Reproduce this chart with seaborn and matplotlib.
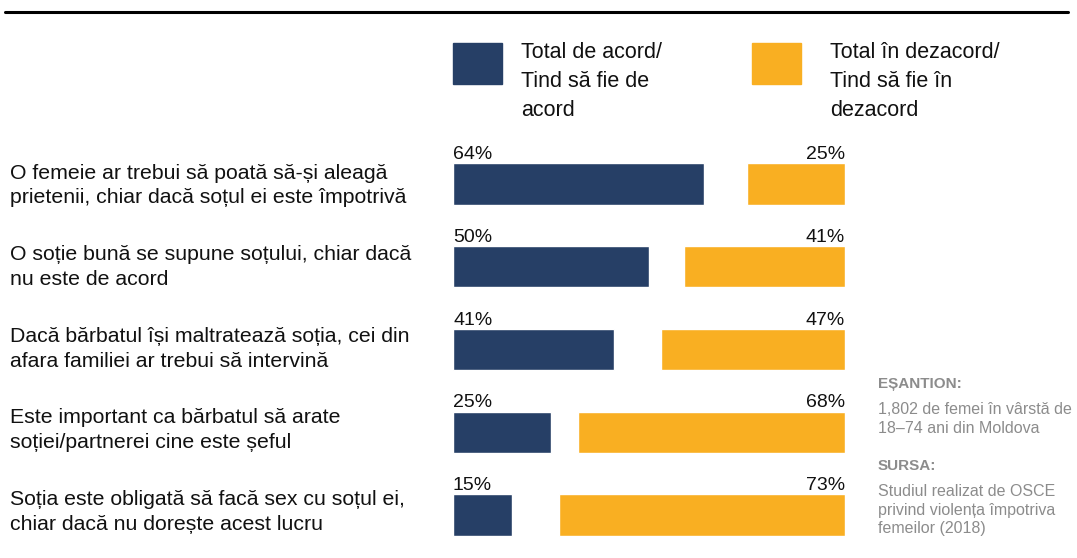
import matplotlib
matplotlib.use("Agg")
import matplotlib.pyplot as plt
import matplotlib.transforms as mtransforms
from matplotlib.patches import Rectangle
from matplotlib.lines import Line2D
import seaborn as sns
import pandas as pd

# Data
statements = [
    "O femeie ar trebui să poată să-și aleagă\nprietenii, chiar dacă soțul ei este împotrivă",
    "O soție bună se supune soțului, chiar dacă\nnu este de acord",
    "Dacă bărbatul își maltratează soția, cei din\nafara familiei ar trebui să intervină",
    "Este important ca bărbatul să arate\nsoției/partnerei cine este șeful",
    "Soția este obligată să facă sex cu soțul ei,\nchiar dacă nu dorește acest lucru",
]
agree = [64, 50, 41, 25, 15]
disagree = [25, 41, 47, 68, 73]
legend_labels = ["Total de acord/\nTind să fie de\nacord", "Total în dezacord/\nTind să fie în\ndezacord"]

BLUE = "#263F66"
ORANGE = "#F9AF22"
GREY = "#8C8C8C"

df = pd.DataFrame({"statement": statements, "agree": agree, "disagree": disagree})

sns.set_style("white")
plt.rcParams["font.family"] = ["Liberation Sans", "DejaVu Sans"]

W, H = 1077, 558
fig = plt.figure(figsize=(W / 100, H / 100), dpi=100)

# axes placement (pixel based)
x0, x1 = 453, 845
y_top, y_bot = 142.6, 556.4
ax = fig.add_axes([x0 / W, 1 - y_bot / H, (x1 - x0) / W, (y_bot - y_top) / H])

# agree bars grow from the left
sns.barplot(data=df, x="agree", y="statement", order=statements, color=BLUE,
            saturation=1, width=0.5, orient="h", ax=ax)

# disagree bars grow from the right (inverted twin axis)
ax2 = ax.twiny()
sns.barplot(data=df, x="disagree", y="statement", order=statements, color=ORANGE,
            saturation=1, width=0.5, orient="h", ax=ax2)

ax.set_xlim(0, 100)
ax2.set_xlim(100, 0)
ax.set_ylim(4.5, -0.5)

for a in (ax, ax2):
    a.set_xlabel("")
    a.set_ylabel("")
    a.set_xticks([])
    a.set_yticks([])
    for s in a.spines.values():
        s.set_visible(False)

# percentage labels
for i in range(len(statements)):
    ax.text(0, i - 0.3, f"{agree[i]}%", ha="left", va="baseline", fontsize=14, color="#111111")
    ax2.text(0, i - 0.3, f"{disagree[i]}%", ha="right", va="baseline", fontsize=14, color="#111111")

# statement labels on the left (slightly tighter spacing than the bars)
trans = mtransforms.blended_transform_factory(fig.transFigure, ax.transData)
for i, s in enumerate(statements):
    ax.text(10 / W, i + 0.02 - 0.015 * i, s, transform=trans, ha="left", va="center",
            fontsize=15.3, linespacing=1.38, color="#111111")

# top rule
fig.add_artist(Line2D([5 / W, 1068 / W], [1 - 12 / H, 1 - 12 / H], color="black", lw=2.2,
                      transform=fig.transFigure))

# legend
for (sx, tx), col, lab in zip([(453, 521), (752, 830)], [BLUE, ORANGE], legend_labels):
    fig.add_artist(Rectangle((sx / W, 1 - 84 / H), 49 / W, 41 / H, color=col,
                             transform=fig.transFigure))
    fig.text(tx / W, 1 - 42 / H, lab, ha="left", va="top", fontsize=15.5,
             linespacing=1.5, color="#111111")

# sample and source notes
fig.text(878 / W, 1 - 377 / H, "EȘANTION:", ha="left", va="top", fontsize=11,
         fontweight="bold", color=GREY)
fig.text(878 / W, 1 - 402 / H, "1,802 de femei în vârstă de\n18–74 ani din Moldova",
         ha="left", va="top", fontsize=11.5, linespacing=1.3, color=GREY)
fig.text(878 / W, 1 - 459 / H, "SURSA:", ha="left", va="top", fontsize=11,
         fontweight="bold", color=GREY)
fig.text(878 / W, 1 - 484 / H, "Studiul realizat de OSCE\nprivind violența împotriva\nfemeilor (2018)",
         ha="left", va="top", fontsize=11.5, linespacing=1.3, color=GREY)

fig.savefig("out.png", dpi=100)
